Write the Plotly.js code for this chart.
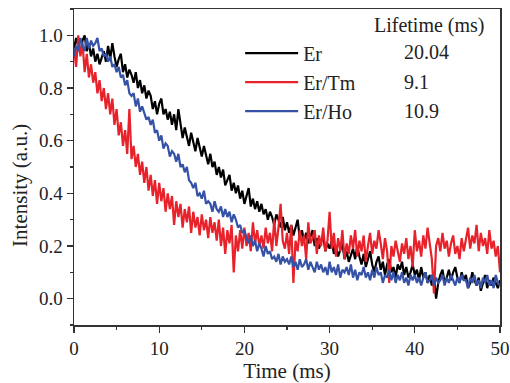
<!DOCTYPE html>
<html>
<head>
<meta charset="utf-8">
<script src="https://cdn.plot.ly/plotly-3.0.1.min.js"></script>
<style>html,body{margin:0;padding:0;background:#fff;}#chart{width:510px;height:383px;}</style>
</head>
<body>
<div id="chart"></div>
<script>
// Sampling grid of the decay traces (ms)
const timeStart = 0;
const timeStep = 0.25;

const seriesNames = ["Er", "Er/Tm", "Er/Ho"];
const lifetimes = ["20.04", "9.1", "10.9"];
const lifetimeHeader = "Lifetime (ms)";

// Normalised intensity, one value every 0.25 ms from 0 to 50 ms
const intensityEr = [
0.95,0.99,0.96,0.93, 0.98,1.00,0.94,0.97, 0.92,0.95,0.90,0.93, 0.89,0.92,0.94,0.90,
0.96,0.91,0.97,0.92, 0.88,0.91,0.93,0.86, 0.89,0.84,0.87,0.85, 0.82,0.86,0.80,0.83,
0.78,0.81,0.76,0.79, 0.77,0.72,0.75,0.70, 0.74,0.76,0.70,0.72, 0.68,0.71,0.66,0.70,
0.64,0.72,0.66,0.61, 0.65,0.62,0.58,0.63, 0.60,0.56,0.61,0.58, 0.54,0.58,0.55,0.51,
0.55,0.50,0.52,0.47, 0.50,0.46,0.49,0.43, 0.45,0.47,0.41,0.44, 0.40,0.43,0.38,0.41,
0.36,0.39,0.42,0.35, 0.38,0.34,0.37,0.33, 0.36,0.32,0.34,0.30, 0.33,0.31,0.28,0.32,
0.30,0.27,0.31,0.26, 0.29,0.25,0.28,0.24, 0.27,0.30,0.23,0.26, 0.22,0.25,0.21,0.24,
0.26,0.20,0.23,0.19, 0.22,0.24,0.18,0.21, 0.19,0.22,0.17,0.20, 0.16,0.19,0.21,0.15,
0.18,0.14,0.17,0.19, 0.15,0.20,0.16,0.13, 0.17,0.12,0.15,0.18, 0.13,0.10,0.14,0.16,
0.11,0.14,0.09,0.13, 0.15,0.10,0.12,0.08, 0.13,0.11,0.14,0.09, 0.12,0.08,0.10,0.13,
0.09,0.11,0.07,0.12, 0.08,0.10,0.06,0.09, 0.05,0.08,0.00,0.06, 0.09,0.11,0.06,0.08,
0.11,0.07,0.10,0.12, 0.08,0.06,0.10,0.07, 0.09,0.04,0.06,0.10, 0.07,0.05,0.08,0.03,
0.06,0.09,0.04,0.07, 0.05,0.08,0.06,0.04, 0.07
];

const intensityErTm = [
0.95,0.88,1.00,0.92, 0.97,0.86,0.93,0.84, 0.89,0.82,0.86,0.78, 0.83,0.75,0.80,0.72,
0.78,0.70,0.76,0.66, 0.72,0.62,0.67,0.58, 0.64,0.55,0.72,0.53, 0.58,0.50,0.55,0.47,
0.52,0.44,0.50,0.41, 0.47,0.39,0.45,0.36, 0.44,0.37,0.42,0.33, 0.40,0.34,0.39,0.28,
0.37,0.31,0.36,0.27, 0.34,0.29,0.35,0.25, 0.33,0.27,0.31,0.24, 0.32,0.26,0.30,0.23,
0.31,0.25,0.29,0.22, 0.30,0.20,0.27,0.17, 0.26,0.21,0.28,0.10, 0.24,0.18,0.26,0.19,
0.27,0.20,0.25,0.18, 0.29,0.21,0.26,0.20, 0.24,0.19,0.27,0.21, 0.25,0.18,0.30,0.20,
0.27,0.36,0.22,0.19, 0.25,0.17,0.28,0.06, 0.22,0.18,0.26,0.20, 0.24,0.15,0.29,0.21,
0.23,0.26,0.17,0.24, 0.20,0.27,0.18,0.22, 0.33,0.19,0.25,0.16, 0.23,0.18,0.26,0.15,
0.21,0.17,0.24,0.19, 0.26,0.16,0.22,0.18, 0.24,0.14,0.20,0.25, 0.17,0.22,0.19,0.26,
0.21,0.15,0.23,0.18, 0.06,0.20,0.16,0.22, 0.18,0.14,0.21,0.17, 0.23,0.15,0.20,0.12,
0.26,0.18,0.22,0.16, 0.24,0.19,0.27,0.21, 0.15,0.02,0.20,0.23, 0.18,0.25,0.19,0.22,
0.16,0.21,0.24,0.17, 0.20,0.15,0.23,0.18, 0.22,0.27,0.19,0.24, 0.21,0.28,0.18,0.25,
0.20,0.23,0.17,0.26, 0.19,0.22,0.16,0.20, 0.10
];

const intensityErHo = [
0.92,0.96,0.94,0.99, 0.96,0.94,0.99,0.95, 0.98,0.96,0.97,0.99, 0.94,0.95,0.92,0.93,
0.90,0.92,0.88,0.89, 0.86,0.88,0.84,0.85, 0.81,0.83,0.78,0.77, 0.78,0.73,0.76,0.71,
0.73,0.70,0.68,0.69, 0.66,0.68,0.63,0.64, 0.60,0.62,0.57,0.59, 0.58,0.54,0.56,0.55,
0.52,0.55,0.50,0.51, 0.48,0.50,0.45,0.44, 0.42,0.44,0.39,0.40, 0.38,0.41,0.36,0.37,
0.36,0.33,0.37,0.34, 0.33,0.35,0.31,0.34, 0.31,0.33,0.29,0.32, 0.30,0.27,0.28,0.25,
0.26,0.23,0.21,0.24, 0.20,0.22,0.18,0.21, 0.19,0.16,0.20,0.17, 0.18,0.15,0.16,0.14,
0.17,0.13,0.16,0.14, 0.15,0.13,0.16,0.12, 0.14,0.11,0.15,0.12, 0.13,0.15,0.11,0.14,
0.12,0.10,0.14,0.11, 0.13,0.10,0.12,0.09, 0.14,0.10,0.12,0.09, 0.13,0.08,0.11,0.10,
0.12,0.09,0.13,0.08, 0.11,0.07,0.10,0.09, 0.12,0.08,0.10,0.07, 0.11,0.08,0.12,0.09,
0.10,0.06,0.09,0.08, 0.11,0.07,0.10,0.06, 0.09,0.07,0.10,0.06, 0.08,0.05,0.09,0.07,
0.09,0.06,0.08,0.05, 0.08,0.10,0.06,0.07, 0.09,0.05,0.08,0.06, 0.07,0.09,0.05,0.08,
0.06,0.09,0.07,0.05, 0.08,0.06,0.09,0.07, 0.07,0.04,0.08,0.06, 0.09,0.05,0.07,0.04,
0.08,0.06,0.09,0.05, 0.07,0.04,0.09,0.06, 0.05
];

const seriesValues = [intensityEr, intensityErTm, intensityErHo];
const seriesColors = ["#000000", "#e8222b", "#3552a6"];

const FONT = "'Liberation Serif'";
const TXT = "#222222";

const traces = seriesValues.map((vals, i) => ({
  type: "scatter",
  mode: "lines",
  name: seriesNames[i],
  legendgroup: "g" + i,
  x0: timeStart,
  dx: timeStep,
  y: vals,
  line: {color: seriesColors[i], width: 2.2}
}));

const annotations = [
  {text: lifetimeHeader, xref: "paper", yref: "paper", x: 0.70, y: 0.949,
   xanchor: "left", yanchor: "middle", showarrow: false, font: {family: FONT, size: 20, color: TXT}},
  {text: "Intensity (a.u.)", xref: "paper", yref: "paper", x: -0.127, y: 0.443,
   xanchor: "center", yanchor: "middle", textangle: -90, showarrow: false,
   font: {family: FONT, size: 21, color: TXT}}
];
lifetimes.forEach((v, i) => {
  annotations.push({text: v, xref: "paper", yref: "paper", x: 0.77,
    y: [0.864, 0.769, 0.677][i], xanchor: "left", yanchor: "middle", showarrow: false,
    font: {family: FONT, size: 20, color: TXT}});
});

const layout = {
  width: 510, height: 383,
  margin: {l: 74, r: 10, t: 9, b: 58, pad: 0},
  paper_bgcolor: "#ffffff", plot_bgcolor: "#ffffff",
  font: {family: FONT, color: TXT},
  showlegend: true,
  legend: {x: 0.39, y: 0.922, xanchor: "left", yanchor: "top",
    bgcolor: "rgba(0,0,0,0)", borderwidth: 0, itemwidth: 53,
    traceorder: "grouped", tracegroupgap: 0,
    font: {family: FONT, size: 20, color: TXT}},
  xaxis: {
    range: [0, 50], tick0: 0, dtick: 10, ticks: "outside", ticklen: 6, tickwidth: 1.3,
    tickcolor: "#333", showline: true, mirror: true, linecolor: "#333", linewidth: 1.5,
    showgrid: false, zeroline: false,
    minor: {dtick: 5, ticks: "outside", ticklen: 3, tickcolor: "#333", showgrid: false},
    tickfont: {family: FONT, size: 19, color: TXT},
    title: {text: "Time (ms)", font: {family: FONT, size: 21, color: TXT}, standoff: 4}
  },
  yaxis: {
    range: [-0.1, 1.1], tick0: 0, dtick: 0.2, tickformat: ".1f", ticks: "outside", ticklen: 6,
    tickwidth: 1.3, tickcolor: "#333", showline: true, mirror: true, linecolor: "#333",
    linewidth: 1.5, showgrid: false, zeroline: false,
    minor: {dtick: 0.1, ticks: "outside", ticklen: 3, tickcolor: "#333", showgrid: false},
    tickfont: {family: FONT, size: 19, color: TXT}
  },
  annotations: annotations
};

Plotly.newPlot("chart", traces, layout, {displayModeBar: false, staticPlot: true});
</script>
</body>
</html>
